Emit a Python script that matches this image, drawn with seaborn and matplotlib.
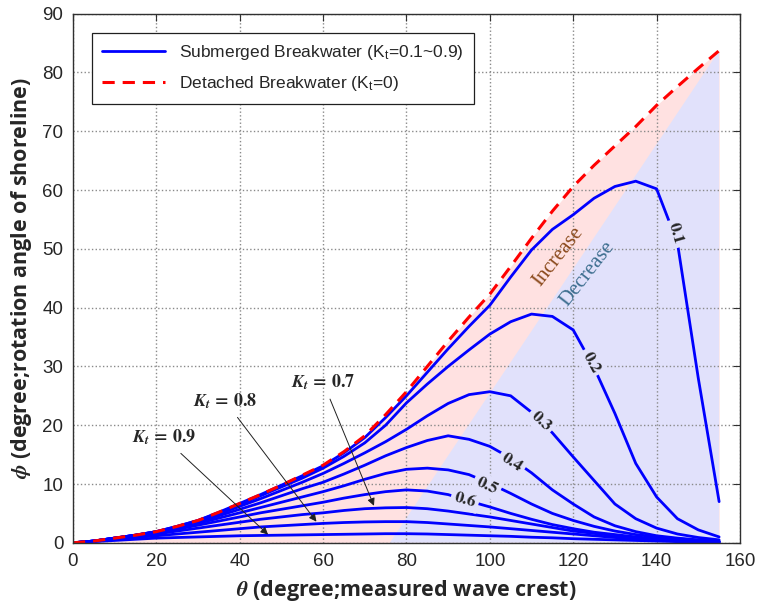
import numpy as np
import pandas as pd
import matplotlib.pyplot as plt
import seaborn as sns
from matplotlib.lines import Line2D

# theta (deg) and shoreline rotation angle phi (deg)
theta = [0, 5, 10, 15, 20, 25, 30, 35, 40, 45, 50, 55, 60, 65, 70, 75,
         80, 85, 90, 95, 100, 105, 110, 115, 120, 125, 130, 135, 140, 145, 150, 155]

detached = [0, 0.3, 0.8, 1.3, 1.9, 2.8, 3.8, 5.2, 6.7, 8.2, 9.8, 11.5, 13.2, 15.5, 18.2, 21.8,
            25.7, 30.0, 34.3, 38.4, 42.3, 47.0, 51.8, 56.4, 60.6, 64.2, 67.5, 70.8, 74.4, 77.6, 80.7, 83.7]

kt_01 = [0, 0.3, 0.8, 1.3, 1.9, 2.8, 3.8, 5.2, 6.7, 8.2, 9.8, 11.4, 13.1, 15.3, 17.9, 21.3,
         25.0, 29.0, 33.0, 36.8, 40.4, 45.2, 49.8, 53.3, 55.8, 58.6, 60.6, 61.5, 60.2, 51.0, 28.0, 7.0]
kt_02 = [0, 0.3, 0.8, 1.3, 1.9, 2.8, 3.8, 5.1, 6.5, 8.0, 9.5, 11.0, 12.7, 14.7, 17.0, 20.0,
         23.8, 27.0, 30.0, 32.8, 35.5, 37.6, 38.9, 38.5, 36.2, 29.8, 22.0, 13.5, 7.8, 4.1, 2.2, 1.0]
kt_03 = [0, 0.3, 0.8, 1.3, 1.9, 2.7, 3.6, 4.9, 6.2, 7.5, 8.9, 10.3, 11.8, 13.5, 15.3, 17.2,
         19.3, 21.6, 23.7, 25.2, 25.7, 25.0, 22.2, 18.7, 14.6, 10.6, 6.6, 4.1, 2.5, 1.5, 0.9, 0.5]
kt_04 = [0, 0.3, 0.8, 1.3, 1.85, 2.6, 3.5, 4.6, 5.7, 6.8, 8.0, 9.2, 10.3, 11.7, 13.2, 14.8,
         16.2, 17.4, 18.2, 17.6, 16.4, 14.4, 11.9, 9.0, 6.6, 4.4, 2.9, 1.9, 1.2, 0.8, 0.5, 0.3]
kt_05 = [0, 0.3, 0.8, 1.25, 1.8, 2.5, 3.3, 4.2, 5.1, 6.0, 6.9, 7.8, 8.7, 9.7, 10.8, 11.8,
         12.5, 12.7, 12.4, 11.6, 10.1, 8.4, 6.6, 5.0, 3.8, 2.8, 2.0, 1.4, 1.0, 0.7, 0.4, 0.2]
kt_06 = [0, 0.3, 0.75, 1.2, 1.7, 2.3, 3.0, 3.7, 4.4, 5.1, 5.7, 6.3, 6.9, 7.6, 8.2, 8.7,
         9.0, 8.8, 8.2, 7.1, 6.1, 5.0, 4.0, 3.1, 2.4, 1.8, 1.4, 1.0, 0.7, 0.5, 0.3, 0.2]
kt_07 = [0, 0.3, 0.7, 1.1, 1.5, 2.0, 2.5, 3.0, 3.5, 4.0, 4.4, 4.8, 5.1, 5.5, 5.8, 5.95,
         6.0, 5.8, 5.4, 4.9, 4.4, 3.8, 3.2, 2.6, 2.0, 1.6, 1.2, 0.9, 0.6, 0.4, 0.3, 0.1]
kt_08 = [0, 0.25, 0.6, 0.9, 1.2, 1.5, 1.8, 2.1, 2.4, 2.7, 2.9, 3.1, 3.3, 3.45, 3.55, 3.6,
         3.6, 3.45, 3.2, 2.95, 2.7, 2.4, 2.1, 1.8, 1.5, 1.2, 0.9, 0.7, 0.5, 0.3, 0.2, 0.1]
kt_09 = [0, 0.2, 0.4, 0.6, 0.8, 0.9, 1.0, 1.1, 1.2, 1.25, 1.3, 1.35, 1.4, 1.45, 1.5, 1.55,
         1.55, 1.5, 1.4, 1.3, 1.2, 1.1, 0.95, 0.85, 0.7, 0.6, 0.5, 0.4, 0.3, 0.2, 0.15, 0.1]

kt_values = ['0.1', '0.2', '0.3', '0.4', '0.5', '0.6', '0.7', '0.8', '0.9']
kt_series = [kt_01, kt_02, kt_03, kt_04, kt_05, kt_06, kt_07, kt_08, kt_09]

# "decrease" triangle corners
tri_theta = [76, 155, 155]
tri_phi = [0, 83.7, 0]

# contour labels along the curves
lab_kt = ['0.1', '0.2', '0.3', '0.4', '0.5', '0.6']
lab_x = [144.6, 124.3, 112.3, 105.3, 99.3, 94.0]
lab_y = [52.6, 30.7, 20.7, 13.7, 9.7, 7.3]
lab_rot = [-74, -62, -43, -33, -25, -16]

# arrow annotations
ann_kt = ['0.9', '0.8', '0.7']
ann_text_xy = [(21.8, 17.9), (36.5, 24.1), (60.0, 27.3)]
ann_tip_xy = [(46.8, 1.4), (58.4, 3.6), (72.2, 6.3)]

long = pd.concat([pd.DataFrame({'theta': theta, 'phi': s, 'Kt': k})
                  for k, s in zip(kt_values, kt_series)], ignore_index=True)

sns.set_theme(style='whitegrid')
plt.rcParams['font.family'] = ['Liberation Sans', 'DejaVu Sans']
plt.rcParams['mathtext.fontset'] = 'custom'
plt.rcParams['mathtext.it'] = 'STIXGeneral:italic:bold'
plt.rcParams['mathtext.rm'] = 'STIXGeneral:bold'
plt.rcParams['mathtext.bf'] = 'STIXGeneral:bold'
plt.rcParams['grid.linestyle'] = ':'
plt.rcParams['grid.color'] = '#8a8a8a'
plt.rcParams['grid.linewidth'] = 1.0
plt.rcParams['axes.edgecolor'] = '#303030'
plt.rcParams['axes.linewidth'] = 1.0

fig = plt.figure(figsize=(7.57, 6.13), dpi=100)
ax = fig.add_axes([0.0964, 0.1145, 0.8811, 0.8633])

pink = '#ffe1e1'
lav = '#e1e1fb'
ax.fill_between(theta, detached, 0, color=pink, lw=0, zorder=1)
ax.fill(tri_theta, tri_phi, color=lav, lw=0, zorder=1)

sns.lineplot(data=long, x='theta', y='phi', units='Kt', estimator=None,
             color='#0000ff', lw=2.0, ax=ax, zorder=3, legend=False)
sns.lineplot(x=theta, y=detached, color='#ff0000', lw=2.2, ax=ax, zorder=4,
             legend=False)
ax.lines[-1].set_dashes([4, 2.6])

for k, x, y, r in zip(lab_kt, lab_x, lab_y, lab_rot):
    ax.text(x, y, k, rotation=r, ha='center', va='center', fontsize=12.5,
            family='STIXGeneral', weight='bold', zorder=6,
            bbox=dict(boxstyle='square,pad=0.2', fc=lav, ec='none'))

for k, txy, tip in zip(ann_kt, ann_text_xy, ann_tip_xy):
    ax.annotate(r'$K_t\,=\,0.' + k[-1] + '$', xy=tip, xytext=txy, ha='center', va='center',
                fontsize=13, zorder=7,
                arrowprops=dict(arrowstyle='-|>', color='#202020', lw=0.7,
                                mutation_scale=11, shrinkA=3, shrinkB=0))

ax.text(116.3, 48.7, 'Increase', rotation=52, ha='center', va='center', fontsize=15,
        family='Liberation Serif', color='#8b4a1c', zorder=6)
ax.text(123.5, 45.8, 'Decrease', rotation=52, ha='center', va='center', fontsize=15,
        family='Liberation Serif', color='#3d6e8f', zorder=6)

ax.set_xlim(0, 160)
ax.set_ylim(0, 90)
ax.set_xticks([0, 20, 40, 60, 80, 100, 120, 140, 160])
ax.set_yticks([0, 10, 20, 30, 40, 50, 60, 70, 80, 90])
ax.tick_params(direction='in', top=True, right=True, length=5, width=0.8,
               labelsize=13.5, colors='#303030', labelcolor='#262626', pad=7)
ax.grid(True, zorder=0)
ax.set_axisbelow(False)
for sp in ax.spines.values():
    sp.set_zorder(8)

ax.set_xlabel(r'$\theta$ (degree;measured wave crest)', fontsize=15.5,
              family='Open Sans', weight='bold', color='#262626', labelpad=6)
ax.set_ylabel(r'$\phi$ (degree;rotation angle of shoreline)', fontsize=15.5,
              family='Open Sans', weight='bold', color='#262626', labelpad=6)

handles = [Line2D([], [], color='#0000ff', lw=2.0),
           Line2D([], [], color='#ff0000', lw=2.2, dashes=[4, 2.6])]
labels = [r'Submerged Breakwater (K$_\mathregular{t}$=0.1~0.9)',
          r'Detached Breakwater (K$_\mathregular{t}$=0)']
leg = ax.legend(handles, labels, loc='upper left', fontsize=12.5, handlelength=3.6,
                fancybox=False, framealpha=1, edgecolor='#202020',
                borderaxespad=1.1, labelspacing=0.7, borderpad=0.6)
leg.get_frame().set_linewidth(0.9)
leg.set_zorder(9)

fig.savefig('out.png', dpi=100)
